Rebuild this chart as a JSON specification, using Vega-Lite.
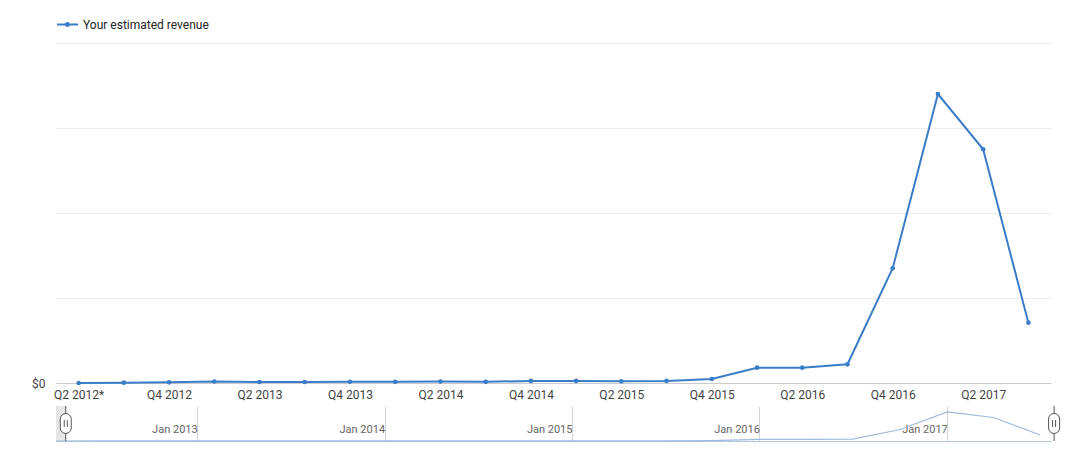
{
  "$schema": "https://vega.github.io/schema/vega-lite/v6.json",
  "background": "white",
  "padding": {"left": 31, "top": 13, "right": 0, "bottom": 0},
  "autosize": {"type": "pad"},
  "config": {"view": {"stroke": null}, "font": "Roboto"},
  "datasets": {
    "rev": [
      {"quarter": "Q2 2012*", "date": "2012-04-01", "revenue": 0},
      {"quarter": "Q3 2012", "date": "2012-07-01", "revenue": 0.4},
      {"quarter": "Q4 2012", "date": "2012-10-01", "revenue": 0.8},
      {"quarter": "Q1 2013", "date": "2013-01-01", "revenue": 1.8},
      {"quarter": "Q2 2013", "date": "2013-04-01", "revenue": 1.2},
      {"quarter": "Q3 2013", "date": "2013-07-01", "revenue": 1.2},
      {"quarter": "Q4 2013", "date": "2013-10-01", "revenue": 1.5},
      {"quarter": "Q1 2014", "date": "2014-01-01", "revenue": 1.4},
      {"quarter": "Q2 2014", "date": "2014-04-01", "revenue": 1.8},
      {"quarter": "Q3 2014", "date": "2014-07-01", "revenue": 1.4},
      {"quarter": "Q4 2014", "date": "2014-10-01", "revenue": 2.4},
      {"quarter": "Q1 2015", "date": "2015-01-01", "revenue": 2.4},
      {"quarter": "Q2 2015", "date": "2015-04-01", "revenue": 2.0},
      {"quarter": "Q3 2015", "date": "2015-07-01", "revenue": 2.4},
      {"quarter": "Q4 2015", "date": "2015-10-01", "revenue": 4.7},
      {"quarter": "Q1 2016", "date": "2016-01-01", "revenue": 18},
      {"quarter": "Q2 2016", "date": "2016-04-01", "revenue": 18},
      {"quarter": "Q3 2016", "date": "2016-07-01", "revenue": 22},
      {"quarter": "Q4 2016", "date": "2016-10-01", "revenue": 135},
      {"quarter": "Q1 2017", "date": "2017-01-01", "revenue": 340},
      {"quarter": "Q2 2017", "date": "2017-04-01", "revenue": 275},
      {"quarter": "Q3 2017", "date": "2017-07-01", "revenue": 71}
    ],
    "handles": [{"h": "2012-04-20"}, {"h": "2017-07-28"}],
    "shade": [{"s": "2012-04-01", "e": "2012-04-20"}]
  },
  "spacing": 5,
  "vconcat": [
    {
      "width": 995,
      "height": 340,
      "data": {"name": "rev"},
      "mark": {"type": "line", "strokeWidth": 2, "point": {"filled": true, "size": 22}},
      "encoding": {
        "x": {
          "field": "quarter", "type": "ordinal", "sort": null,
          "scale": {"type": "point", "padding": 0.5},
          "axis": {
            "title": null,
            "values": ["Q2 2012*", "Q4 2012", "Q2 2013", "Q4 2013", "Q2 2014", "Q4 2014", "Q2 2015", "Q4 2015", "Q2 2016", "Q4 2016", "Q2 2017"],
            "labelAngle": 0, "ticks": false, "grid": false,
            "domainColor": "#cccccc", "labelPadding": 6, "labelFontSize": 12, "labelColor": "#444444"
          }
        },
        "y": {
          "field": "revenue", "type": "quantitative",
          "scale": {"domain": [0, 400]},
          "axis": {
            "title": null, "values": [0, 100, 200, 300, 400],
            "labelExpr": "datum.value == 0 ? '$0' : ''",
            "domain": false, "ticks": false, "gridColor": "#ebebeb",
            "labelPadding": 11, "labelFontSize": 12, "labelColor": "#444444"
          }
        },
        "color": {
          "datum": "Your estimated revenue",
          "scale": {"range": ["#3b7dc8"]},
          "legend": {
            "title": null, "orient": "top", "offset": 12, "padding": 0,
            "symbolType": "M-1,0L1,0M-0.15,0A0.15,0.15 0 1 0 0.15,0A0.15,0.15 0 1 0 -0.15,0",
            "symbolSize": 441, "symbolStrokeWidth": 2,
            "labelFontSize": 12, "labelColor": "#222222", "labelFont": "Roboto"
          }
        }
      }
    },
    {
      "width": 995,
      "height": 35,
      "layer": [
        {
          "data": {"name": "shade"},
          "mark": {"type": "rect", "color": "#e6e6e6"},
          "encoding": {
            "x": {"field": "s", "type": "temporal", "scale": {"type": "utc", "domain": [{"year": 2012, "month": 4, "date": 1, "utc": true}, {"year": 2017, "month": 7, "date": 22, "utc": true}]}},
            "x2": {"field": "e"}
          }
        },
        {
          "data": {"name": "rev"},
          "mark": {"type": "line", "color": "#9dbbe0", "strokeWidth": 1.2},
          "encoding": {
            "x": {
              "field": "date", "type": "temporal",
              "scale": {"type": "utc", "domain": [{"year": 2012, "month": 4, "date": 1, "utc": true}, {"year": 2017, "month": 7, "date": 22, "utc": true}]},
              "axis": {
                "title": null,
                "values": [{"year": 2013, "month": 1, "date": 1, "utc": true}, {"year": 2014, "month": 1, "date": 1, "utc": true}, {"year": 2015, "month": 1, "date": 1, "utc": true}, {"year": 2016, "month": 1, "date": 1, "utc": true}, {"year": 2017, "month": 1, "date": 1, "utc": true}],
                "labelExpr": "utcFormat(datum.value, '%b %Y')",
                "grid": true, "gridColor": "#d5d5d5", "ticks": false,
                "domainColor": "#b4c8e2",
                "labelAlign": "right", "labelBaseline": "alphabetic", "labelPadding": -9, "labelDx": -3,
                "labelFontSize": 11, "labelColor": "#666666",
                "labelFlush": false, "labelOverlap": false, "labelBound": false
              }
            },
            "y": {"field": "revenue", "type": "quantitative", "scale": {"domain": [0, 410]}, "axis": null}
          }
        },
        {
          "data": {"name": "handles"},
          "mark": {"type": "rule", "color": "#555555"},
          "encoding": {
            "x": {"field": "h", "type": "temporal", "scale": {"type": "utc", "domain": [{"year": 2012, "month": 4, "date": 1, "utc": true}, {"year": 2017, "month": 7, "date": 22, "utc": true}]}}
          }
        },
        {
          "data": {"name": "handles"},
          "mark": {
            "type": "point",
            "shape": "M-0.55,-0.45A0.55,0.55 0 0 1 0.55,-0.45L0.55,0.45A0.55,0.55 0 0 1 -0.55,0.45ZM-0.15,-0.35L-0.15,0.35M0.15,-0.35L0.15,0.35",
            "size": 400, "filled": false, "fill": "white", "stroke": "#555555", "strokeWidth": 1, "opacity": 1
          },
          "encoding": {
            "x": {"field": "h", "type": "temporal", "scale": {"type": "utc", "domain": [{"year": 2012, "month": 4, "date": 1, "utc": true}, {"year": 2017, "month": 7, "date": 22, "utc": true}]}}
          }
        }
      ]
    }
  ]
}
